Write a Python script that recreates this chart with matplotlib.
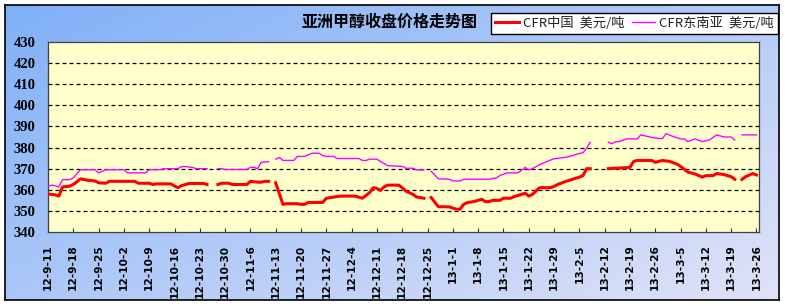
import numpy as np
import pandas as pd
import matplotlib
matplotlib.use('Agg')
import matplotlib.pyplot as plt
from matplotlib.lines import Line2D

# ---- data ----
title = '亚洲甲醇收盘价格走势图'
cn_label = 'CFR中国  美元/吨'
sea_label = 'CFR东南亚  美元/吨'

cn_dates = ['2012-09-11', '2012-09-13', '2012-09-14', '2012-09-15', '2012-09-17', '2012-09-18',
            '2012-09-19', '2012-09-20', '2012-09-22', '2012-09-24', '2012-09-25', '2012-09-27',
            '2012-09-28', '2012-10-05', '2012-10-06', '2012-10-09', '2012-10-10', '2012-10-11',
            '2012-10-15', '2012-10-16', '2012-10-17', '2012-10-18', '2012-10-20', '2012-10-24',
            '2012-10-25', '2012-10-26', '2012-10-28', '2012-10-29', '2012-10-31', '2012-11-01',
            '2012-11-05', '2012-11-06', '2012-11-08', '2012-11-09', '2012-11-10', '2012-11-11',
            '2012-11-12', '2012-11-13', '2012-11-15', '2012-11-16', '2012-11-19', '2012-11-20',
            '2012-11-21', '2012-11-22', '2012-11-26', '2012-11-27', '2012-11-30', '2012-12-01',
            '2012-12-05', '2012-12-06', '2012-12-07', '2012-12-09', '2012-12-10', '2012-12-11',
            '2012-12-12', '2012-12-13', '2012-12-14', '2012-12-17', '2012-12-18', '2012-12-19',
            '2012-12-21', '2012-12-22', '2012-12-24', '2012-12-25', '2012-12-26', '2012-12-28',
            '2012-12-31', '2013-01-02', '2013-01-03', '2013-01-04', '2013-01-05', '2013-01-07',
            '2013-01-09', '2013-01-10', '2013-01-11', '2013-01-12', '2013-01-14', '2013-01-15',
            '2013-01-17', '2013-01-18', '2013-01-20', '2013-01-21', '2013-01-22', '2013-01-23',
            '2013-01-24', '2013-01-25', '2013-01-28', '2013-01-29', '2013-01-30', '2013-02-01',
            '2013-02-03', '2013-02-05', '2013-02-06', '2013-02-07', '2013-02-08', '2013-02-10',
            '2013-02-13', '2013-02-16', '2013-02-19', '2013-02-20', '2013-02-21', '2013-02-25',
            '2013-02-26', '2013-02-28', '2013-03-02', '2013-03-04', '2013-03-05', '2013-03-07',
            '2013-03-09', '2013-03-11', '2013-03-12', '2013-03-14', '2013-03-15', '2013-03-17',
            '2013-03-19', '2013-03-20', '2013-03-21', '2013-03-22', '2013-03-23', '2013-03-25',
            '2013-03-26']
cn_vals = [358.0, 357.6, 357.0, 361.3, 361.7, 362.5,
           363.8, 365.2, 364.5, 364.2, 363.3, 363.1,
           364.0, 364.0, 363.1, 363.1, 362.5, 362.8,
           362.8, 361.8, 361.0, 362.0, 363.0, 363.0,
           362.5, None, 362.5, 363.1, 363.1, 362.5,
           362.5, 364.0, 363.6, 363.6, 364.0, 364.0,
           None, 363.3, 353.1, 353.4, 353.4, 353.1,
           353.1, 354.0, 354.0, 356.0, 356.8, 357.0,
           357.0, 356.5, 356.0, 358.7, 361.0, 360.7,
           359.7, 361.4, 362.2, 362.2, 361.0, 359.4,
           357.8, 356.6, 356.0, None, 356.3, 352.0,
           351.9, 350.8, 350.8, 353.1, 353.9, 354.5,
           355.5, 354.4, 354.4, 355.0, 355.0, 356.0,
           356.0, 356.8, 357.8, 358.4, 357.0, 357.8,
           359.4, 361.0, 361.0, 361.6, 362.5, 363.8,
           364.9, 366.0, 366.7, 370.0, 370.0, None,
           370.0, 370.3, 370.6, 373.4, 373.9, 373.9,
           373.0, 373.9, 373.4, 372.2, 371.1, 368.4,
           367.5, 366.0, 366.7, 366.7, 367.7, 367.2,
           366.2, 365.0, None, 364.9, 366.2, 367.7,
           367.0]

sea_dates = ['2012-09-11', '2012-09-12', '2012-09-13', '2012-09-14', '2012-09-15', '2012-09-17',
             '2012-09-18', '2012-09-19', '2012-09-20', '2012-09-24', '2012-09-25', '2012-09-27',
             '2012-10-02', '2012-10-03', '2012-10-08', '2012-10-09', '2012-10-12', '2012-10-13',
             '2012-10-17', '2012-10-18', '2012-10-19', '2012-10-21', '2012-10-22', '2012-10-25',
             '2012-10-26', '2012-10-28', '2012-10-29', '2012-10-30', '2012-11-05', '2012-11-06',
             '2012-11-07', '2012-11-08', '2012-11-09', '2012-11-11', '2012-11-12', '2012-11-13',
             '2012-11-14', '2012-11-15', '2012-11-18', '2012-11-19', '2012-11-21', '2012-11-23',
             '2012-11-25', '2012-11-26', '2012-11-27', '2012-11-29', '2012-11-30', '2012-12-06',
             '2012-12-07', '2012-12-08', '2012-12-09', '2012-12-11', '2012-12-12', '2012-12-14',
             '2012-12-18', '2012-12-19', '2012-12-21', '2012-12-22', '2012-12-24', '2012-12-25',
             '2012-12-26', '2012-12-28', '2012-12-31', '2013-01-01', '2013-01-03', '2013-01-04',
             '2013-01-11', '2013-01-13', '2013-01-14', '2013-01-16', '2013-01-19', '2013-01-20',
             '2013-01-21', '2013-01-22', '2013-01-23', '2013-01-25', '2013-01-27', '2013-01-29',
             '2013-02-01', '2013-02-03', '2013-02-05', '2013-02-06', '2013-02-07', '2013-02-08',
             '2013-02-10', '2013-02-13', '2013-02-14', '2013-02-15', '2013-02-16', '2013-02-18',
             '2013-02-21', '2013-02-22', '2013-02-25', '2013-02-27', '2013-02-28', '2013-03-01',
             '2013-03-03', '2013-03-05', '2013-03-06', '2013-03-07', '2013-03-09', '2013-03-11',
             '2013-03-13', '2013-03-15', '2013-03-17', '2013-03-19', '2013-03-20', '2013-03-21',
             '2013-03-22', '2013-03-26']
sea_vals = [361.6, 362.2, 361.9, 361.4, 364.8, 364.8,
            365.6, 367.7, 369.5, 369.5, 368.0, 369.5,
            369.5, 368.0, 368.0, 369.5, 369.5, 370.0,
            370.0, 371.0, 371.0, 370.6, 370.0, 370.0,
            None, 370.0, 370.0, 369.6, 369.6, 370.6,
            370.6, 370.0, 373.0, 373.3, None, 374.5,
            375.3, 373.9, 373.9, 375.8, 375.8, 377.3,
            377.3, 376.2, 375.8, 375.8, 374.8, 374.8,
            373.9, 373.9, 374.5, 374.5, 373.4, 371.4,
            371.1, 370.2, 370.2, 369.4, 369.4, None,
            368.8, 365.2, 365.0, 364.2, 364.2, 365.0,
            365.0, 365.6, 366.7, 368.0, 368.0, 369.2,
            370.6, 369.4, 370.0, 371.9, 373.4, 374.7,
            375.3, 376.1, 377.2, 377.5, 379.7, 382.5,
            None, 382.5, 381.8, 382.8, 382.8, 384.1,
            384.1, 386.0, 384.8, 384.3, 384.3, 386.6,
            385.2, 384.1, 384.1, 382.8, 384.1, 382.8,
            383.6, 386.0, 385.0, 385.0, 383.6, None,
            386.0, 386.0]

tick_start = '2012-09-11'
tick_end = '2013-03-26'
y_ticks = [340, 350, 360, 370, 380, 390, 400, 410, 420, 430]

cjk = ['Noto Sans CJK SC', 'DejaVu Sans']

W, H = 785, 306
fig = plt.figure(figsize=(W / 100, H / 100), dpi=100, facecolor='white')

# blue gradient panel with black frame
bg = fig.add_axes([5 / W, 6 / H, 774 / W, 295 / H], zorder=0)
gx, gy = np.meshgrid(np.linspace(0, 1, 200), np.linspace(0, 1, 80))
t = np.clip(0.55 * gx + 0.45 * gy, 0, 1)[..., None]
c0 = np.array([0.50, 0.69, 0.97])
c1 = np.array([0.88, 0.89, 0.97])
bg.imshow(c0 * (1 - t) + c1 * t, aspect='auto', extent=[0, 1, 0, 1], origin='upper')
bg.set_xticks([])
bg.set_yticks([])
for s in bg.spines.values():
    s.set_color('black')
    s.set_linewidth(1.2)

# main plot area
ax = fig.add_axes([48 / W, 1 - 232 / H, (759 - 48) / W, (232 - 42) / H], zorder=1)
ax.set_facecolor('#FFFFCC')

cn_x = pd.to_datetime(cn_dates)
cn_y = np.array(cn_vals, dtype=float)
sea_x = pd.to_datetime(sea_dates)
sea_y = np.array(sea_vals, dtype=float)

ax.plot(sea_x, sea_y, color='#FF00FF', lw=1.0, zorder=3)
ax.plot(cn_x, cn_y, color='#FF0000', lw=2.2, zorder=4)

ax.set_ylim(340, 430)
ax.set_yticks(y_ticks)
ax.set_yticklabels([str(v) for v in y_ticks], family='Liberation Serif',
                   fontweight='bold', fontsize=10.5)
ax.tick_params(axis='y', length=0, pad=9)
for v in y_ticks[1:-1]:
    ax.axhline(v, color='black', lw=0.9, ls=(0, (3.2, 2.4)), zorder=2)

ticks = pd.date_range(tick_start, tick_end, freq='7D')
ax.set_xlim(ticks[0], ticks[0] + pd.Timedelta(days=196.7))
ax.set_xticks(ticks)
ax.set_xticklabels([f'{d.year % 100}-{d.month}-{d.day}' for d in ticks],
                   rotation=90, fontsize=7.6, fontweight='bold', va='top', ha='center')
ax.tick_params(axis='x', direction='in', length=3, width=0.8, pad=9, color='#333333')

for s in ax.spines.values():
    s.set_color('#404040')
    s.set_linewidth(0.9)

fig.text(390 / W, 1 - 22 / H, title, family=cjk, fontweight='heavy', fontsize=11.5,
         ha='center', va='center')

handles = [Line2D([], [], color='#FF0000', lw=2.2), Line2D([], [], color='#FF00FF', lw=1.0)]
leg = fig.legend(handles, [cn_label, sea_label], ncol=2, loc='upper right',
                 bbox_to_anchor=(778 / W, 1 - 13 / H), frameon=True, fancybox=False,
                 edgecolor='black', framealpha=1, borderpad=0.3, borderaxespad=0,
                 handlelength=1.8, handletextpad=0.3, columnspacing=0.55,
                 prop={'family': cjk, 'size': 9.5})
leg.get_frame().set_linewidth(1.0)
for txt in leg.get_texts():
    txt.set_color('#222222')

fig.savefig('out.png', dpi=100, facecolor='white')
